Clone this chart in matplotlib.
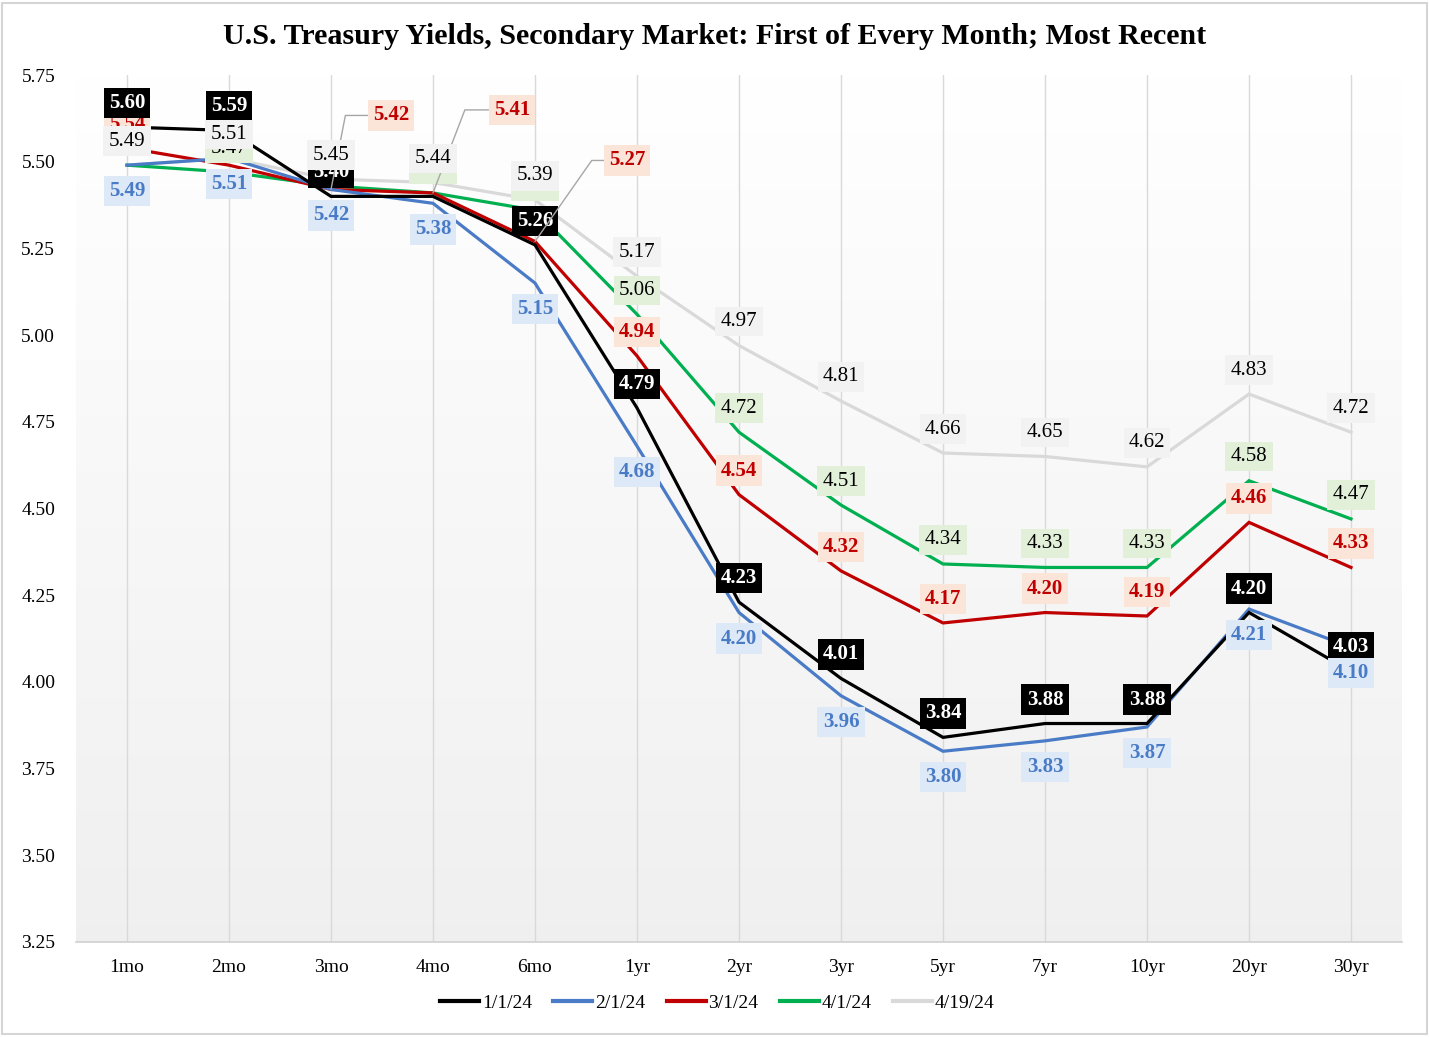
import numpy as np
import matplotlib
matplotlib.use("Agg")
import matplotlib.pyplot as plt
from matplotlib.patches import Rectangle
from matplotlib.lines import Line2D

plt.rcParams['font.family'] = ['Liberation Serif', 'DejaVu Serif']

# ---------------- data ----------------
tenors = ["1mo", "2mo", "3mo", "4mo", "6mo", "1yr", "2yr", "3yr", "5yr", "7yr", "10yr", "20yr", "30yr"]
y_jan = [5.60, 5.59, 5.40, 5.40, 5.26, 4.79, 4.23, 4.01, 3.84, 3.88, 3.88, 4.20, 4.03]
y_feb = [5.49, 5.51, 5.42, 5.38, 5.15, 4.68, 4.20, 3.96, 3.80, 3.83, 3.87, 4.21, 4.10]
y_mar = [5.54, 5.49, 5.42, 5.41, 5.27, 4.94, 4.54, 4.32, 4.17, 4.20, 4.19, 4.46, 4.33]
y_apr = [5.49, 5.47, 5.43, 5.41, 5.36, 5.06, 4.72, 4.51, 4.34, 4.33, 4.33, 4.58, 4.47]
y_apr19 = [5.49, 5.51, 5.45, 5.44, 5.39, 5.17, 4.97, 4.81, 4.66, 4.65, 4.62, 4.83, 4.72]
series_names = ["1/1/24", "2/1/24", "3/1/24", "4/1/24", "4/19/24"]
y_ticks = [3.25, 3.50, 3.75, 4.00, 4.25, 4.50, 4.75, 5.00, 5.25, 5.50, 5.75]

# ---------------- styles ----------------
W, H, DPI = 1429, 1037, 100
fig = plt.figure(figsize=(W / DPI, H / DPI), dpi=DPI)
fig.patch.set_facecolor('white')
fig.add_artist(Rectangle((0.0015, 0.003), 0.997, 0.994, transform=fig.transFigure,
                         fill=False, edgecolor='#d5d5d5', lw=1.5))

ax = fig.add_axes([76 / W, 1 - 942 / H, (1402 - 76) / W, (942 - 75) / H])

# gradient background for plot area
grad = np.linspace(1.0, 0.0, 256).reshape(-1, 1)
top = np.array([1.0, 1.0, 1.0])
bot = np.array([0.94, 0.94, 0.94])
img = top[None, None, :] * grad[:, :, None] + bot[None, None, :] * (1 - grad[:, :, None])
ax.imshow(img, extent=[0, 1, 0, 1], transform=ax.transAxes, aspect='auto', zorder=0)

x = np.arange(len(tenors))
ax.set_xlim(-0.5, len(tenors) - 0.5)
ax.set_ylim(3.25, 5.75)

for xi in x:
    ax.axvline(xi, color='#d9d9d9', lw=1.0, zorder=1)

for s in ['left', 'right', 'top']:
    ax.spines[s].set_visible(False)
ax.spines['bottom'].set_color('#d0d0d0')
ax.spines['bottom'].set_linewidth(1.2)

ax.set_yticks(y_ticks)
ax.set_yticklabels([f"{t:.2f}" for t in y_ticks], fontsize=14)
ax.set_xticks(x)
ax.set_xticklabels(tenors, fontsize=14)
ax.tick_params(axis='both', length=0)
ax.tick_params(axis='y', pad=15)
ax.tick_params(axis='x', pad=12.5)

styles = {
    "1/1/24":  dict(line='#000000', box='#000000', txt='white', weight='bold', dy=24, z=3),
    "2/1/24":  dict(line='#4a7bc6', box='#dde9f7', txt='#4a7bc6', weight='bold', dy=-26, z=4),
    "3/1/24":  dict(line='#c00000', box='#fbe4d8', txt='#c00000', weight='bold', dy=24, z=2),
    "4/1/24":  dict(line='#00b050', box='#e2f0d9', txt='black', weight='normal', dy=24, z=3.5),
    "4/19/24": dict(line='#d9d9d9', box='#f2f2f2', txt='black', weight='normal', dy=24, z=5),
}
data = dict(zip(series_names, [y_jan, y_feb, y_mar, y_apr, y_apr19]))

line_z = {"1/1/24": 3.4, "2/1/24": 3.3, "3/1/24": 3.2, "4/1/24": 3.1, "4/19/24": 3.0}
for name in series_names:
    st = styles[name]
    ax.plot(x, data[name], color=st['line'], lw=2.3, zorder=line_z[name],
            solid_joinstyle='miter', label=name)

# hidden labels (covered in original)
skip = {("1/1/24", 3), ("3/1/24", 1), ("4/1/24", 0), ("4/1/24", 2)}
# labels moved with leader lines: (dx px, dy px, leader angle deg)
moved = {("3/1/24", 2): (60, 74, 79), ("3/1/24", 3): (79, 83, 69), ("3/1/24", 4): (92, 81, 55)}

LFS = 15
px2pt = 72.0 / DPI
for name in series_names:
    st = styles[name]
    for i, v in enumerate(data[name]):
        if (name, i) in skip:
            continue
        bbox = dict(boxstyle='square,pad=0.25', facecolor=st['box'], edgecolor='none')
        if (name, i) in moved:
            dx, dy, ang = moved[(name, i)]
            ax.annotate(f"{v:.2f}", xy=(i, v), xytext=(dx * px2pt, dy * px2pt),
                        textcoords='offset points', ha='center', va='center',
                        fontsize=LFS, color=st['txt'], fontweight=st['weight'],
                        bbox=bbox, zorder=6,
                        arrowprops=dict(arrowstyle='-', color='#a6a6a6', lw=1.0,
                                        shrinkA=0, shrinkB=0,
                                        connectionstyle=f'angle,angleA=0,angleB={ang},rad=0'))
        else:
            ax.annotate(f"{v:.2f}", xy=(i, v), xytext=(0, st['dy'] * px2pt),
                        textcoords='offset points', ha='center', va='center',
                        fontsize=LFS, color=st['txt'], fontweight=st['weight'],
                        bbox=bbox, zorder=st['z'] + 2)

fig.suptitle("U.S. Treasury Yields, Secondary Market: First of Every Month; Most Recent",
             fontsize=21.6, fontweight='bold', y=1 - 36 / H, va='center')

handles = [Line2D([0], [0], color=styles[n]['line'], lw=3) for n in series_names]
fig.legend(handles, series_names, loc='center', bbox_to_anchor=(0.502, 1 - 1003 / H),
           ncol=5, frameon=False, fontsize=14, handlelength=2.0, handletextpad=0.15,
           columnspacing=1.1)

fig.savefig("out.png", dpi=DPI, facecolor='white')
